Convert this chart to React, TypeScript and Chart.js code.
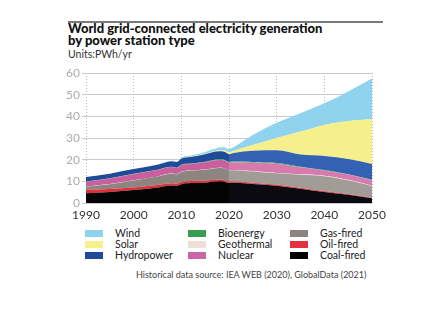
import React, { useEffect, useRef } from "react";
import { Chart, registerables } from "chart.js";

Chart.register(...registerables);

const years = [1990, 1995, 2000, 2005, 2008, 2009, 2010, 2012, 2015, 2018, 2019, 2020, 2021, 2025, 2030, 2035, 2040, 2045, 2050];
const coal = [4.5, 5.1, 6.0, 7.2, 8.1, 7.9, 8.7, 9.2, 9.4, 10.0, 9.8, 9.3, 9.3, 8.8, 8.0, 6.6, 5.1, 3.8, 2.2];
const oil = [1.5, 1.4, 1.2, 1.1, 1.0, 1.0, 1.0, 1.0, 0.9, 0.8, 0.8, 0.7, 0.7, 0.6, 0.5, 0.45, 0.4, 0.3, 0.2];
const gas = [1.5, 2.2, 3.2, 3.9, 4.4, 4.3, 4.6, 4.8, 5.1, 5.4, 5.4, 5.1, 5.1, 5.1, 5.2, 6.0, 6.9, 6.4, 5.4];
const geothermal = [0.04, 0.04, 0.05, 0.06, 0.06, 0.07, 0.07, 0.07, 0.08, 0.09, 0.09, 0.1, 0.1, 0.15, 0.2, 0.2, 0.2, 0.2, 0.2];
const nuclear = [2.3, 2.6, 2.9, 3.0, 3.0, 2.9, 3.1, 2.9, 3.3, 3.5, 3.5, 3.4, 3.5, 3.9, 4.2, 3.2, 2.4, 2.4, 2.5];
const bioenergy = [0.1, 0.1, 0.1, 0.12, 0.15, 0.15, 0.2, 0.25, 0.3, 0.35, 0.35, 0.35, 0.4, 0.4, 0.4, 0.3, 0.2, 0.2, 0.2];
const hydro = [2.1, 2.1, 2.2, 2.3, 2.6, 2.6, 2.8, 3.0, 3.4, 3.7, 3.7, 3.6, 4.0, 5.2, 5.9, 5.6, 6.5, 7.0, 7.3];
const solar = [0, 0, 0, 0, 0.01, 0.02, 0.05, 0.1, 0.25, 0.55, 0.7, 0.8, 1.0, 2.6, 5.6, 10.6, 14.3, 17.5, 20.8];
const wind = [0, 0, 0.03, 0.1, 0.2, 0.25, 0.4, 0.55, 0.8, 1.2, 1.4, 1.5, 1.7, 4.6, 7.0, 8.5, 10.0, 13.7, 18.7];

const yTicks = [0, 10, 20, 30, 40, 50, 60];
const xTicks = [1990, 2000, 2010, 2020, 2030, 2040, 2050];

const titleLines = ["World grid-connected electricity generation", "by power station type"];
const unitsText = "Units:PWh/yr";
const sourceText = "Historical data source: IEA WEB (2020), GlobalData (2021)";

const legendColumns = [
  [
    { label: "Wind", color: "#8fd2ee" },
    { label: "Solar", color: "#f6f08e" },
    { label: "Hydropower", color: "#1f4a98" },
  ],
  [
    { label: "Bioenergy", color: "#3a9e50" },
    { label: "Geothermal", color: "#eee0d6" },
    { label: "Nuclear", color: "#c966a3" },
  ],
  [
    { label: "Gas-fired", color: "#8b8480" },
    { label: "Oil-fired", color: "#e2323f" },
    { label: "Coal-fired", color: "#000000" },
  ],
];

const FONT = "Lato, 'Open Sans', sans-serif";

function mk(label: string, values: number[], hist: string, proj: string) {
  return {
    label,
    data: years.map((y, i) => ({ x: y, y: values[i] })),
    backgroundColor: hist,
    borderWidth: 0,
    borderColor: "rgba(0,0,0,0)",
    pointRadius: 0,
    tension: 0.35,
    cubicInterpolationMode: "monotone" as const,
    fill: "-1",
    segment: {
      backgroundColor: (ctx: any) => (ctx.p0.parsed.x >= 2020 ? proj : hist),
    },
  };
}

export default function App() {
  const ref = useRef<HTMLCanvasElement | null>(null);
  useEffect(() => {
    if (!ref.current) return;
    const ds = [
      mk("Coal-fired", coal, "#040404", "#0a0a10"),
      mk("Oil-fired", oil, "#e0303c", "#e64a55"),
      mk("Gas-fired", gas, "#8c8580", "#a29c97"),
      mk("Geothermal", geothermal, "#efe1d8", "#f1e6df"),
      mk("Nuclear", nuclear, "#c95f9c", "#d77aae"),
      mk("Bioenergy", bioenergy, "#3a9e58", "#45a866"),
      mk("Hydropower", hydro, "#1e4b98", "#3462b3"),
      mk("Solar", solar, "#f5ef8c", "#f5ef8c"),
      mk("Wind", wind, "#90d3ef", "#90d3ef"),
    ];
    (ds[0] as any).fill = "origin";
    const chart = new Chart(ref.current, {
      type: "line",
      data: { datasets: ds as any },
      options: {
        animation: false,
        responsive: false,
        maintainAspectRatio: false,
        layout: { padding: { left: 0, right: 49, top: 13, bottom: 0 } },
        plugins: { legend: { display: false }, tooltip: { enabled: false } },
        scales: {
          x: {
            type: "linear",
            min: 1990,
            max: 2050,
            z: 1,
            afterFit: (s: any) => {
              s.height = 22;
            },
            afterBuildTicks: (s: any) => {
              s.ticks = xTicks.map((v) => ({ value: v }));
            },
            ticks: {
              color: "#333",
              font: { family: FONT, size: 12 },
              padding: 5,
              maxRotation: 0,
              callback: (v: any) => String(v),
            },
            grid: { color: "#b8b8b8", drawTicks: false, lineWidth: 1 },
            border: { display: false, dash: [1, 2] },
          },
          y: {
            stacked: true,
            min: 0,
            max: 60,
            z: 1,
            afterFit: (s: any) => {
              s.width = 86;
            },
            afterBuildTicks: (s: any) => {
              s.ticks = yTicks.map((v) => ({ value: v }));
            },
            ticks: {
              color: "#acacac",
              font: { family: FONT, size: 12 },
              padding: 2,
            },
            grid: { color: "#cacaca", lineWidth: 1, drawTicks: true, tickLength: 4 },
            border: { display: false },
          },
        },
      },
    });
    return () => chart.destroy();
  }, []);

  return (
    <div
      style={{
        position: "fixed",
        left: 0,
        top: 0,
        width: 421,
        height: 324,
        background: "#fff",
        fontFamily: FONT,
        overflow: "hidden",
      }}
    >
      <div style={{ position: "absolute", left: 68, top: 21, width: 315, height: 2, background: "#7a7a7a" }} />
      <div
        style={{
          position: "absolute",
          left: 68,
          top: 22,
          fontSize: 13,
          lineHeight: "12px",
          fontWeight: 900,
          color: "#111",
          whiteSpace: "nowrap",
        }}
      >
        {titleLines.map((t) => (
          <div key={t}>{t}</div>
        ))}
      </div>
      <div
        style={{
          position: "absolute",
          left: 68,
          top: 49,
          fontSize: 10.5,
          lineHeight: "11px",
          color: "#333",
          whiteSpace: "nowrap",
        }}
      >
        {unitsText}
      </div>
      <canvas ref={ref} width={421} height={165} style={{ position: "absolute", left: 0, top: 60, width: 421, height: 165 }} />
      {legendColumns.map((col, ci) =>
        col.map((item, ri) => (
          <div
            key={item.label}
            style={{
              position: "absolute",
              left: [85, 188, 290][ci],
              top: 227.5 + ri * 11,
              height: 11,
              display: "flex",
              alignItems: "center",
              whiteSpace: "nowrap",
            }}
          >
            <div style={{ width: 18, height: 7, background: item.color }} />
            <div style={{ marginLeft: 12, fontSize: 10.5, lineHeight: "11px", color: "#222" }}>{item.label}</div>
          </div>
        ))
      )}
      <div
        style={{
          position: "absolute",
          left: 136,
          top: 270,
          fontSize: 9,
          lineHeight: "10px",
          color: "#444",
          whiteSpace: "nowrap",
        }}
      >
        {sourceText}
      </div>
    </div>
  );
}
